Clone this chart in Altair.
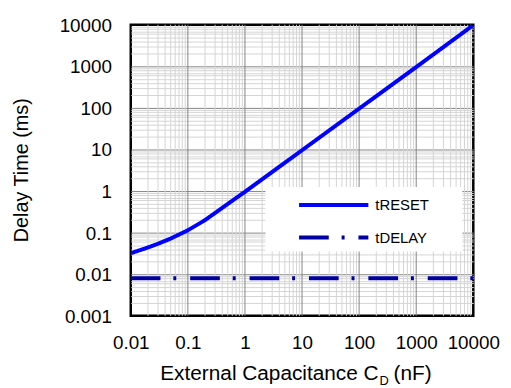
import altair as alt
import pandas as pd

# ---- data ----
cap_nf = [0.01, 0.02, 0.03, 0.05, 0.1, 0.2, 0.5, 1, 10, 100, 1000, 10000]
t_reset_ms = [0.032, 0.044, 0.054, 0.072, 0.114, 0.2, 0.49, 0.96, 9.6, 96, 960, 9800]

delay_cap_nf = [0.01, 10000]
t_delay_ms = [0.008, 0.008]

series_names = ["tRESET", "tDELAY"]
series_colors = ["#0000FF", "#0000A0"]

x_tick_values = [0.01, 0.1, 1, 10, 100, 1000, 10000]
y_tick_values = [0.001, 0.01, 0.1, 1, 10, 100, 1000, 10000]

x_major_grid = [0.1, 1, 10, 100, 1000]
minor_steps = [2, 3, 4, 5, 6, 7, 8, 9]
x_decades = [0.01, 0.1, 1, 10, 100, 1000]
y_decades = [0.001, 0.01, 0.1, 1, 10, 100, 1000]
x_minor_grid = [m * d for d in x_decades for m in minor_steps]
y_minor_grid = [m * d for d in y_decades for m in minor_steps]

# ---- tables ----
lines_df = pd.DataFrame({
    "x": cap_nf + delay_cap_nf,
    "y": t_reset_ms + t_delay_ms,
    "series": [series_names[0]] * len(cap_nf) + [series_names[1]] * len(delay_cap_nf),
})
xmin_df = pd.DataFrame({"v": x_minor_grid})
xmaj_df = pd.DataFrame({"v": x_major_grid})

FONT = "Liberation Sans"
TITLE_SIZE = 21
xscale = alt.Scale(type="log", domain=[0.01, 10000], nice=False)
yscale = alt.Scale(type="log", domain=[0.001, 10000], nice=False)

minor_col = "#d4d4d4"
major_col = "#858585"

IS_DECADE = "abs(log(datum.value)/LN10 - round(log(datum.value)/LN10)) < 0.001"
AT_EDGE = "datum.value < 0.0011 || datum.value > 9999"


def title_only_axis(text, tx, ty, size, align):
    return alt.Axis(orient="bottom", title=text, labels=False, ticks=False,
                    domain=False, grid=False, titleFont=FONT,
                    titleFontSize=size, titleFontWeight="normal",
                    titleColor="black", titleX=tx, titleY=ty,
                    titleAlign=align, titleBaseline="alphabetic")


# the single y axis draws the labels and every horizontal grid line;
# half-pixel offsets cancel the axis' 0.5px translate so text sits on whole pixels
y_axis = alt.Axis(orient="left", values=sorted(y_tick_values + y_minor_grid),
                  format="~g",
                  grid=True, gridWidth=1,
                  gridColor={"condition": {"test": IS_DECADE, "value": major_col},
                             "value": minor_col},
                  gridOpacity={"condition": {"test": AT_EDGE, "value": 0},
                               "value": 1},
                  labelExpr=f"({IS_DECADE}) ? datum.label : ''",
                  ticks=False, tickSize=0, domain=False,
                  labelFont=FONT, labelFontSize=19, labelColor="black",
                  labelPadding=19.5, labelOverlap=False, labelFlush=False,
                  labelBaseline="alphabetic", labelOffset=6.5,
                  title="Delay Time (ms)", titleFont=FONT,
                  titleFontSize=20, titleFontWeight="normal",
                  titleColor="black", titleX=-104.5, titleY=146.5,
                  titleAngle=270, titleAlign="center",
                  titleBaseline="alphabetic")

# minor vertical grid layer carries the "(nF)" part of the x title
x_minor = alt.Chart(xmin_df).mark_rule(color=minor_col, strokeWidth=1).encode(
    x=alt.X("v:Q", scale=xscale,
            axis=title_only_axis("(nF)", 265, 64, TITLE_SIZE, "left")))
# major vertical grid layer carries the subscript "D" of the x title
x_major = alt.Chart(xmaj_df).mark_rule(color=major_col, strokeWidth=1).encode(
    x=alt.X("v:Q", scale=xscale,
            axis=title_only_axis("D", 255.5, 69, 13, "center")))

legend = alt.Legend(
    title="x", titleOrient="right", titleOpacity=0, titleFontSize=15,
    titlePadding=19.5, titleFont=FONT,
    orient="none", legendX=136, legendY=164,
    symbolType="M-1.2,0L5.8,0", symbolSize=400, symbolStrokeWidth=4,
    symbolOffset=28, labelOffset=53, padding=6, rowPadding=13,
    fillColor="white", labelFont=FONT, labelFontSize=15, labelColor="black",
)

lines = alt.Chart(lines_df).mark_line(strokeWidth=4, clip=True).encode(
    x=alt.X("x:Q", scale=xscale,
            axis=alt.Axis(orient="bottom", values=x_tick_values, format="~g",
                          grid=False, ticks=False, tickSize=0, domain=False,
                          labelFont=FONT, labelFontSize=19, labelColor="black",
                          labelPadding=33, labelBaseline="alphabetic",
                          labelOverlap=False, labelFlush=False,
                          title="External Capacitance C",
                          titleFont=FONT, titleFontSize=TITLE_SIZE,
                          titleFontWeight="normal", titleColor="black",
                          titleX=29.3, titleY=64, titleAlign="left",
                          titleBaseline="alphabetic")),
    y=alt.Y("y:Q", scale=yscale, axis=y_axis),
    color=alt.Color("series:N",
                    scale=alt.Scale(domain=series_names, range=series_colors),
                    legend=legend),
    strokeDash=alt.StrokeDash("series:N",
                              scale=alt.Scale(domain=series_names,
                                              range=[[1, 0], [30, 13, 3, 14]]),
                              legend=legend),
)

chart = alt.layer(x_minor, x_major, lines).resolve_axis(
    x="independent"
).properties(
    width=346, height=294,
    autosize=alt.AutoSizeParams(type="none"),
    padding={"left": 124, "top": 15, "right": 30, "bottom": 70},
).configure(font=FONT).configure_view(stroke="black", strokeWidth=2.5)

chart.save("out.html", embed_options={"renderer": "svg", "actions": False})
